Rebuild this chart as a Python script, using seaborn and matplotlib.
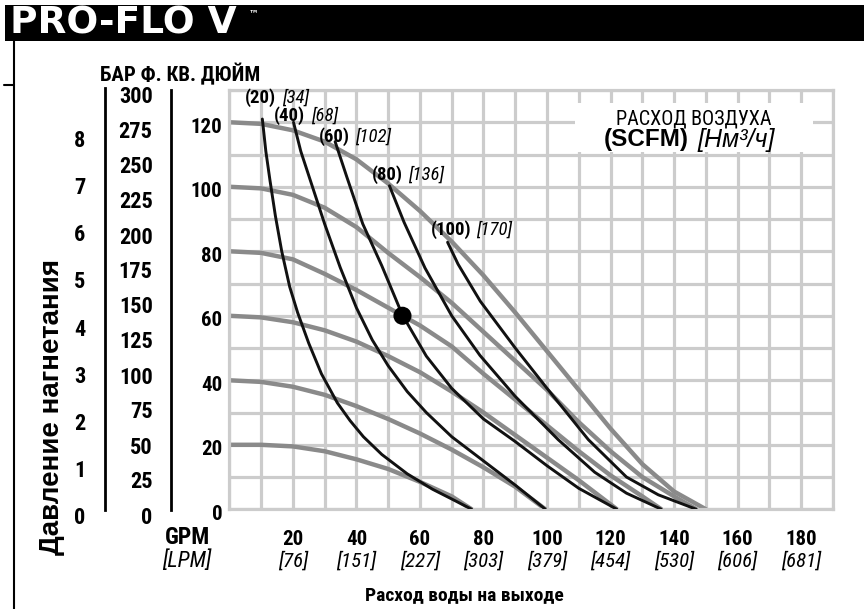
import os
import numpy as np
import pandas as pd
import matplotlib
matplotlib.use("Agg")
import matplotlib.pyplot as plt
import matplotlib.transforms as mtransforms
from matplotlib import font_manager as fm
from matplotlib.font_manager import FontProperties
from matplotlib.patches import Rectangle
import seaborn as sns

# ---------------- data ----------------
# gray curves: discharge pressure vs flow at constant inlet air pressure (psi)
p20_x = [0, 10, 20, 30, 40, 50, 60, 70, 76.3]
p20_y = [20, 20, 19.5, 18, 15.5, 12.5, 8.5, 4, 0]
p40_x = [0, 10, 20, 30, 40, 50, 60, 70, 80, 90, 99.5]
p40_y = [40, 39.5, 38, 35.5, 32, 28, 23.5, 18.5, 13, 7, 0]
p60_x = [0, 10, 20, 30, 40, 50, 60, 70, 80, 90, 100, 110, 122]
p60_y = [60, 59.5, 58, 55.5, 52, 47.5, 42.5, 36.5, 30, 23, 16, 9, 0]
p80_x = [0, 10, 20, 30, 40, 50, 60, 70, 80, 90, 100, 110, 120, 130, 136]
p80_y = [80, 79.5, 77.5, 73, 68, 62.5, 57, 50.5, 42, 34, 26, 18, 10.5, 4, 0]
p100_x = [0, 10, 20, 30, 40, 50, 60, 70, 80, 90, 100, 110, 120, 130, 140, 147]
p100_y = [100, 99.5, 97.5, 93.5, 87.5, 79.5, 72, 64, 55, 46, 37, 27, 18, 10, 4, 0]
p120_x = [0, 10, 20, 30, 40, 50, 60, 70, 80, 90, 100, 110, 120, 130, 140, 150]
p120_y = [120, 119.5, 117.5, 114, 108.5, 101, 92.5, 83, 72.5, 61, 49, 37, 25, 14, 5.5, 0]

# black curves: constant air consumption (SCFM)
s20_x = [10.4, 11.5, 12.8, 14.5, 16.5, 19, 21.5, 25, 29, 34, 38, 42.2, 48, 56, 64, 70, 76.3]
s20_y = [121, 111, 102, 91, 80, 69, 61, 51.5, 42, 33, 27.5, 22.5, 17, 11, 6.2, 3.2, 0]
s40_x = [20.2, 22.5, 25.5, 30, 34.9, 40, 45, 50, 56, 62, 70, 80, 90, 99.5]
s40_y = [120, 111, 102, 88.5, 75, 62.5, 52.5, 44.5, 36.5, 30, 22.5, 15, 7.5, 0]
s60_x = [33.3, 37, 42, 48, 54.5, 62, 70, 80, 90, 100, 110, 122]
s60_y = [114, 103, 88.5, 75.5, 60.2, 47.5, 37.5, 28, 21, 13.5, 6.5, 0]
s80_x = [50.4, 55, 61.6, 70, 78.9, 90, 103.5, 115, 125, 136]
s80_y = [100.3, 89, 74.8, 60, 47.7, 35, 21.6, 11.5, 5, 0]
s100_x = [68.7, 72, 79, 90, 100, 113, 125, 135, 147]
s100_y = [82.8, 76, 64.5, 50, 37.5, 21.6, 10, 4.5, 0]

# operating point
op_x = [54.5]
op_y = [60]

# curve labels
scfm_labels = ["(20)", "(40)", "(60)", "(80)", "(100)"]
nm3_labels = ["[34]", "[68]", "[102]", "[136]", "[170]"]

# axis ticks
gpm_ticks = [20, 40, 60, 80, 100, 120, 140, 160, 180]
lpm_labels = ["[76]", "[151]", "[227]", "[303]", "[379]", "[454]", "[530]", "[606]", "[681]"]
psi_ticks = [0, 20, 40, 60, 80, 100, 120]
bar_ticks = [0, 1, 2, 3, 4, 5, 6, 7, 8]
ft_ticks = [0, 25, 50, 75, 100, 125, 150, 175, 200, 225, 250, 275, 300]

# ---------------- build tables ----------------
def long(curves, kind):
    rows = []
    for name, xs, ys in curves:
        for x, y in zip(xs, ys):
            rows.append({"curve": name, "kind": kind, "gpm": x, "psi": y})
    return pd.DataFrame(rows)

gray_df = long([("p20", p20_x, p20_y), ("p40", p40_x, p40_y), ("p60", p60_x, p60_y),
                ("p80", p80_x, p80_y), ("p100", p100_x, p100_y), ("p120", p120_x, p120_y)], "psi")
black_df = long([("s20", s20_x, s20_y), ("s40", s40_x, s40_y), ("s60", s60_x, s60_y),
                 ("s80", s80_x, s80_y), ("s100", s100_x, s100_y)], "scfm")
op_df = pd.DataFrame({"gpm": op_x, "psi": op_y})

# ---------------- style ----------------
sns.set_style("white")
plt.rcParams["font.family"] = ["Liberation Sans", "DejaVu Sans"]
for k in ["text.color", "axes.labelcolor", "xtick.color", "ytick.color"]:
    plt.rcParams[k] = "black"

# ---- locate a condensed sans font (falls back to Liberation Sans) ----
def _wnum(w):
    if isinstance(w, (int, float)):
        return int(w)
    return fm.weight_dict.get(str(w).lower(), 400)

def _fam_rank(f):
    b = os.path.basename(f.fname).lower()
    n = f.name.lower()
    if "liberation" in n and "narrow" in (n + b):
        return 0
    if "notosans" in b.replace(" ", "") or n.startswith("noto sans"):
        return 1
    if "roboto" in n:
        return 2
    if "open" in n:
        return 3
    if "dejavu" in n:
        return 4
    return 5

def _stretch(f):
    b = os.path.basename(f.fname).lower()
    s = f.stretch if isinstance(f.stretch, str) else ""
    if "extracondensed" in b or "extra-condensed" in s:
        return 1
    if "semicondensed" in b or "semi-condensed" in s:
        return 2
    if "ultracondensed" in b:
        return 3
    if "condensed" in b or "narrow" in b or s == "condensed":
        return 0
    if isinstance(f.stretch, (int, float)) and f.stretch < 500:
        return 0
    return None

def find_cond(bold, italic):
    best, key = None, None
    for f in fm.fontManager.ttflist:
        b = os.path.basename(f.fname).lower()
        if any(t in b for t in ["mono", "serif", "cjk", "display", "ui"]):
            continue
        st = _stretch(f)
        if st is None:
            continue
        if "noto" in b and "notosans" not in b:
            continue
        want_w = 700 if bold else 400
        wpen = abs(_wnum(f.weight) - want_w)
        is_it = f.style in ("italic", "oblique")
        spen = 0 if is_it == italic else 1
        k = (spen, wpen, _fam_rank(f), st)
        if key is None or k < key:
            best, key = f.fname, k
    if best is not None and key[0] == 0 and key[1] <= 100:
        return best
    return None

_cache = {}
def FP(size, bold=False, italic=False, cond=True):
    ck = (bold, italic, cond)
    if ck not in _cache:
        _cache[ck] = find_cond(bold, italic) if cond else None
    path = _cache[ck]
    if path:
        return FontProperties(fname=path, size=size)
    return FontProperties(family=["Liberation Sans", "DejaVu Sans"], size=size,
                          weight="bold" if bold else "normal",
                          style="italic" if italic else "normal")

W, H = 864, 609
fig = plt.figure(figsize=(W / 100, H / 100), dpi=100)
fig.patch.set_facecolor("white")

def fx(px):
    return px / W

def fy(py):
    return 1 - py / H

# header band
fig.patches.append(Rectangle((fx(5), fy(41)), 1 - fx(5), (41 - 5) / H, transform=fig.transFigure,
                             facecolor="black", edgecolor="none", zorder=0))
fig.text(fx(10), fy(24), "PRO-FLO V", color="white", fontsize=27, fontweight="heavy",
         family=["DejaVu Sans"], va="center", ha="left")
fig.text(fx(249), fy(13), "™", color="white", fontsize=7, fontweight="bold",
         family=["DejaVu Sans"], va="center", ha="left")
# left border line + stub
fig.lines.append(plt.Line2D([fx(13.5), fx(13.5)], [fy(41), fy(609)], transform=fig.transFigure,
                            color="black", lw=1.5))
fig.lines.append(plt.Line2D([fx(4), fx(13.5)], [fy(85), fy(85)], transform=fig.transFigure,
                            color="black", lw=1.5))

# ---------------- main axes ----------------
x0, x1 = 229.3, 833.0
y0, y1 = 509.3, 90.0
ax = fig.add_axes([fx(x0), fy(y0), (x1 - x0) / W, (y0 - y1) / H])
ax.set_xlim(0, 190)
ax.set_ylim(0, 130)
ax.set_facecolor("white")
gridc = "#cccccc"
ax.set_xticks(np.arange(0, 191, 10), minor=True)
ax.set_yticks(np.arange(0, 131, 10), minor=True)
ax.set_xticks(gpm_ticks)
ax.set_xticklabels([str(v) for v in gpm_ticks], fontproperties=FP(15, bold=True))
ax.set_yticks(psi_ticks)
ax.set_yticklabels([str(v) for v in psi_ticks], fontproperties=FP(15, bold=True))
ax.grid(True, which="both", color=gridc, lw=2.3)
ax.set_axisbelow(True)
ax.tick_params(which="both", length=0)
ax.tick_params(axis="x", pad=15)
ax.tick_params(axis="y", pad=5)
for lbl in ax.get_yticklabels():
    lbl.set_transform(lbl.get_transform() + mtransforms.ScaledTranslation(0, -3 / 100, fig.dpi_scale_trans))
for s in ax.spines.values():
    s.set_color(gridc)
    s.set_linewidth(2.3)

# white box behind air-flow title
ax.add_patch(Rectangle((108.8, 110.9), 74.9, 15.1, facecolor="white", edgecolor="none", zorder=1))

sns.lineplot(data=gray_df, x="gpm", y="psi", units="curve", estimator=None, sort=False,
             color="#8a8a8a", lw=3.2, ax=ax, legend=False, zorder=2)
sns.lineplot(data=black_df, x="gpm", y="psi", units="curve", estimator=None, sort=False,
             color="#111111", lw=2.1, ax=ax, legend=False, zorder=3)
sns.scatterplot(data=op_df, x="gpm", y="psi", color="black", s=170, edgecolor="none",
                ax=ax, legend=False, zorder=4)
ax.set_xlabel("")
ax.set_ylabel("")

# LPM row and GPM/LPM unit labels
bt = mtransforms.blended_transform_factory(ax.transData, fig.transFigure)
for v, lab in zip(gpm_ticks, lpm_labels):
    ax.text(v, fy(561), lab, transform=bt, ha="center", va="center",
            fontproperties=FP(15, italic=True))
fig.text(fx(187), fy(538), "GPM", ha="center", va="center", fontproperties=FP(17, bold=True))
fig.text(fx(187), fy(561), "[LPM]", ha="center", va="center", fontproperties=FP(16, italic=True))

# curve labels: (right edge of bold part, left edge of italic part, centre y) in pixels
lab_pos = [(276, 282, 98), (305, 311, 116), (350, 355, 137), (403, 408, 175), (472, 476, 230)]
for (rx, lx, py), a, b in zip(lab_pos, scfm_labels, nm3_labels):
    fig.text(fx(rx), fy(py), a, ha="right", va="center", fontproperties=FP(13.5, bold=True))
    fig.text(fx(lx), fy(py), b, ha="left", va="center", fontproperties=FP(13.5, italic=True))

# air-flow legend text
fig.text(fx(694), fy(119), "РАСХОД ВОЗДУХА", ha="center", va="center", fontproperties=FP(14.5))
fig.text(fx(689), fy(140), "(SCFM)", ha="right", va="center", fontproperties=FP(17.5, bold=True, cond=False))
fig.text(fx(697), fy(140), "[Нм³/ч]", ha="left", va="center", fontproperties=FP(18, italic=True, cond=False))

# ---------------- bar axis ----------------
bar_top, bar_bot, bar_step = 88.0, 510.0, 47.2
axb = fig.add_axes([fx(105), fy(bar_bot), 0.0005, (bar_bot - bar_top) / H])
axb.set_ylim(0, (bar_bot - bar_top) / bar_step)
axb.set_yticks(bar_ticks)
axb.set_yticklabels([str(v) for v in bar_ticks], fontproperties=FP(16, bold=True))
axb.set_xticks([])
axb.patch.set_alpha(0)
for k in ["right", "top", "bottom"]:
    axb.spines[k].set_visible(False)
axb.spines["left"].set_linewidth(2)
axb.spines["left"].set_color("black")
axb.tick_params(axis="y", length=10, width=1.8, pad=4, color="black")
for lbl in axb.get_yticklabels():
    lbl.set_transform(lbl.get_transform() + mtransforms.ScaledTranslation(0, -6 / 100, fig.dpi_scale_trans))

# ---------------- pressure scale axis 0-300 ----------------
ft_top, ft_bot = 90.0, 510.0
axf = fig.add_axes([fx(170.7), fy(ft_bot), 0.0005, (ft_bot - ft_top) / H])
axf.set_ylim(0, 300)
axf.set_yticks(ft_ticks)
axf.set_yticklabels([str(v) for v in ft_ticks], fontproperties=FP(16, bold=True))
axf.set_xticks([])
axf.patch.set_alpha(0)
for k in ["right", "top", "bottom"]:
    axf.spines[k].set_visible(False)
axf.spines["left"].set_linewidth(2)
axf.spines["left"].set_color("black")
axf.tick_params(axis="y", length=10, width=1.8, pad=3, color="black")
for lbl in axf.get_yticklabels():
    lbl.set_transform(lbl.get_transform() + mtransforms.ScaledTranslation(0, -5 / 100, fig.dpi_scale_trans))

# ---------------- titles ----------------
fig.text(fx(100), fy(74), "БАР Ф. КВ. ДЮЙМ", ha="left", va="center", fontproperties=FP(15, bold=True))
fig.text(fx(52), fy(407), "Давление нагнетания", ha="center", va="center", rotation=90,
         fontproperties=FP(20, bold=True, cond=False))
fig.text(fx(464), fy(595), "Расход воды на выходе", ha="center", va="center",
         fontproperties=FP(14, bold=True))

fig.savefig("out.png", dpi=100)
